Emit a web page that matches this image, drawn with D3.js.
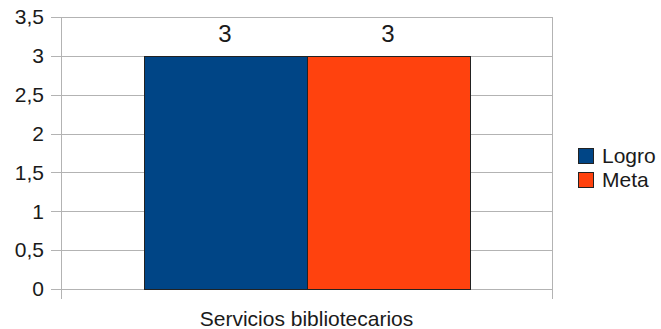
<!DOCTYPE html>
<html>
<head>
<meta charset="utf-8">
<script src="https://cdn.jsdelivr.net/npm/d3@7"></script>
<style>
  body { margin: 0; background: #fff; }
  svg { display: block; font-family: "Liberation Sans", Arial, sans-serif; }
</style>
</head>
<body>
<svg id="chart" width="661" height="329"></svg>
<script>
const categories = ["Servicios bibliotecarios"];
const seriesNames = ["Logro", "Meta"];
const logroValues = [3];
const metaValues = [3];
const seriesColors = ["#004586", "#ff420e"];
const yTicks = [0, 0.5, 1, 1.5, 2, 2.5, 3, 3.5];

const svg = d3.select("#chart");
const plot = { left: 61, right: 552, top: 17, bottom: 289 };

const x = d3.scaleBand().domain(categories).range([plot.left, plot.right]).paddingInner(0).paddingOuter(0);
const xs = d3.scaleBand().domain(seriesNames).range([0, x.bandwidth()]).paddingInner(0).paddingOuter(0.507);
const y = d3.scaleLinear().domain([0, 3.5]).range([plot.bottom, plot.top]);

const fmt = v => String(v).replace(".", ",");
const grid = "#b3b3b3";
const textColor = "#1a1a1a";

// gridlines
svg.append("g").selectAll("line").data(yTicks).join("line")
  .attr("x1", plot.left - 10).attr("x2", plot.right)
  .attr("y1", d => Math.round(y(d)) + 0.5).attr("y2", d => Math.round(y(d)) + 0.5)
  .attr("stroke", grid).attr("stroke-width", 1);

// y axis line
svg.append("line").attr("x1", plot.left + 0.5).attr("x2", plot.left + 0.5)
  .attr("y1", plot.top).attr("y2", plot.bottom + 10).attr("stroke", grid);
// right wall line + category tick
svg.append("line").attr("x1", plot.right + 0.5).attr("x2", plot.right + 0.5)
  .attr("y1", plot.top).attr("y2", plot.bottom + 10).attr("stroke", grid);

// y tick labels
svg.append("g").selectAll("text").data(yTicks).join("text")
  .attr("x", 44).attr("y", d => y(d)).attr("dy", "0.35em")
  .attr("text-anchor", "end").attr("font-size", 21).attr("fill", textColor)
  .text(fmt);

// bars
const data = categories.map((c, i) => ({ c, vals: [logroValues[i], metaValues[i]] }));
const g = svg.append("g");
data.forEach(d => {
  d.vals.forEach((v, j) => {
    const bx = x(d.c) + xs(seriesNames[j]);
    g.append("rect")
      .attr("x", Math.round(bx) + 0.5).attr("y", Math.round(y(v)) + 0.5)
      .attr("width", Math.round(xs.bandwidth())).attr("height", Math.round(y(0) - y(v)))
      .attr("fill", seriesColors[j]).attr("stroke", "#222").attr("stroke-width", 1);
    g.append("text")
      .attr("x", bx + xs.bandwidth() / 2).attr("y", y(v) - 14)
      .attr("text-anchor", "middle").attr("font-size", 24).attr("fill", textColor)
      .text(fmt(v));
  });
});

// category labels
svg.append("g").selectAll("text").data(categories).join("text")
  .attr("x", d => x(d) + x.bandwidth() / 2).attr("y", 326)
  .attr("text-anchor", "middle").attr("font-size", 21).attr("fill", textColor)
  .text(d => d);

// legend
const leg = svg.append("g").attr("transform", "translate(578,148)");
seriesNames.forEach((s, i) => {
  leg.append("rect").attr("x", 0.5).attr("y", i * 24 + 0.5).attr("width", 15).attr("height", 15)
    .attr("fill", seriesColors[i]).attr("stroke", "#222");
  leg.append("text").attr("x", 24).attr("y", i * 24 + 15)
    .attr("font-size", 21).attr("fill", textColor).text(s);
});
</script>
</body>
</html>
